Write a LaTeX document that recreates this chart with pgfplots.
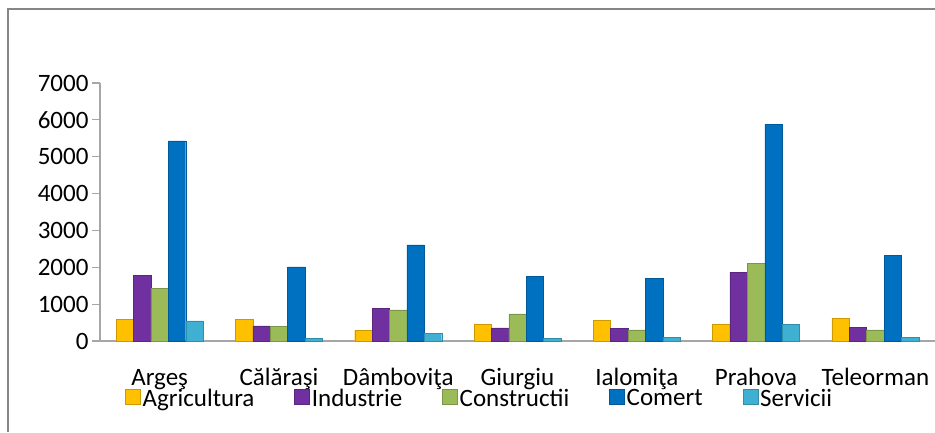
\documentclass[border=0pt]{standalone}
\usepackage{fontspec}
\setmainfont{Carlito}
\usepackage{pgfplots}
\pgfplotsset{compat=1.18}
\definecolor{cAgr}{HTML}{FFC000}
\definecolor{cInd}{HTML}{7030A0}
\definecolor{cCon}{HTML}{9BBB59}
\definecolor{cCom}{HTML}{0070C0}
\definecolor{cSer}{HTML}{3FB0D2}
\definecolor{axgray}{HTML}{A6A6A6}
\definecolor{framegray}{HTML}{868686}
\begin{document}
\begin{tikzpicture}[x=1pt,y=1pt]
\path[use as bounding box] (0,0) rectangle (935,432);
\draw[framegray, line width=1.5pt] (8,0) -- (8,423) -- (935,423);
\begin{axis}[
  scale only axis,
  width=835pt, height=258pt,
  at={(100pt,91pt)}, anchor=south west,
  xmin=-0.5, xmax=6.5, ymin=0, ymax=7000,
  axis x line*=bottom, axis y line*=left,
  axis line style={axgray, line width=1.2pt},
  xtick={0,...,6},
  xticklabels={Argeş, Călăraşi, Dâmboviţa, Giurgiu, Ialomiţa, Prahova, Teleorman},
  x tick style={draw=none},
  ytick={0,1000,...,7000},
  y tick style={axgray, line width=1.2pt},
  tick align=outside, major tick length=8pt,
  /pgf/number format/assume math mode=true,
  /pgf/number format/1000 sep={},
  tick label style={font=\fontsize{25}{30}\selectfont, text=black},
  xticklabel style={anchor=base, yshift=-36pt},
  yticklabel style={anchor=east},
  ybar=0pt, bar width=17.4pt,
  legend columns=5,
  legend style={draw=none, fill=none, at={(0.03,-0.222)}, anchor=west,
    font=\fontsize{25}{30}\selectfont, inner sep=0pt,
    /tikz/every even column/.append style={column sep=38pt}},
  legend image code/.code={\fill[#1] (0pt,-6pt) rectangle (15pt,9pt);},
  clip=false,
]
\addplot[fill=cAgr, draw=cAgr!80!black] coordinates {(0,591) (1,585) (2,291) (3,444) (4,553) (5,444) (6,608)};
\addplot[fill=cInd, draw=cInd!80!black] coordinates {(0,1790) (1,409) (2,880) (3,354) (4,345) (5,1871) (6,363)};
\addplot[fill=cCon, draw=cCon!80!black] coordinates {(0,1436) (1,400) (2,845) (3,736) (4,300) (5,2098) (6,300)};
\addplot[fill=cCom, draw=cCom!80!black] coordinates {(0,5430) (1,2008) (2,2608) (3,1762) (4,1698) (5,5876) (6,2316)};
\addplot[fill=cSer, draw=cSer!80!black] coordinates {(0,545) (1,70) (2,210) (3,70) (4,100) (5,454) (6,100)};
\legend{Agricultura, Industrie, Constructii, Comert, Servicii}
\end{axis}
\end{tikzpicture}
\end{document}
